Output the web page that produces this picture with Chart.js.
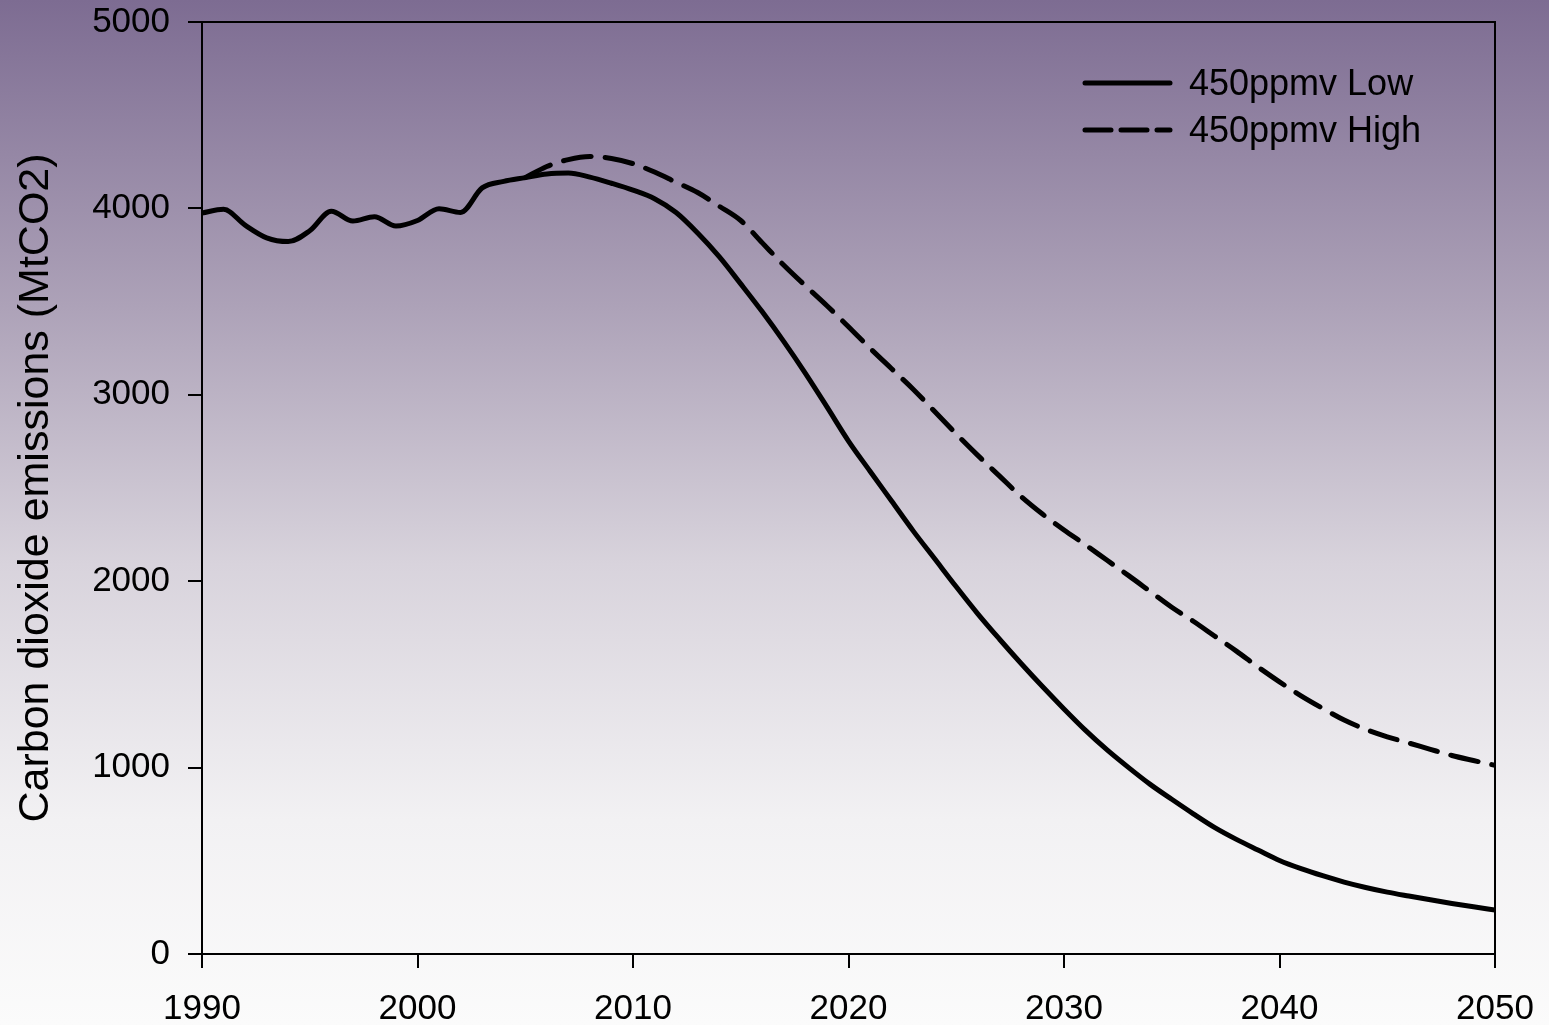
<!DOCTYPE html>
<html lang="en">
<head>
    <meta charset="UTF-8">
    <title>Carbon dioxide emissions</title>
    <script src="https://cdn.jsdelivr.net/npm/chart.js"></script>
    <style>
        html, body { margin: 0; padding: 0; }
        #wrap { width: 1549px; height: 1025px; }
    </style>
</head>
<body>
    <div id="wrap"><canvas id="co2Chart"></canvas></div>

    <script>
        // years 1990..2050
        const years = [];
        for (let y = 1990; y <= 2050; y++) years.push(y);

        const lowValues = [
            3975, 3995, 3910, 3842, 3822, 3880, 3985, 3932, 3955, 3905,
            3935, 3998, 3978, 4110, 4145, 4165, 4185, 4190, 4168, 4135,
            4098, 4052, 3978, 3868, 3741, 3595, 3445, 3285, 3115, 2935,
            2752, 2590, 2430, 2270, 2120, 1970, 1825, 1690, 1560, 1435,
            1315, 1200, 1095, 1000, 910, 830, 752, 678, 615, 558,
            502, 458, 420, 386, 357, 332, 311, 291, 271, 253,
            236
        ];

        // high scenario splits off in 2005
        const highStart = 2005;
        const highValues = [
            4165, 4225, 4262, 4278, 4268, 4240, 4195, 4140, 4085, 4012,
            3935, 3815, 3695, 3585, 3478, 3365, 3250, 3140, 3030, 2910,
            2790, 2675, 2565, 2455, 2360, 2275, 2195, 2112, 2030, 1945,
            1860, 1785, 1705, 1625, 1540, 1460, 1385, 1318, 1255, 1205,
            1165, 1132, 1098, 1065, 1038, 1012
        ];

        const xTicks = [1990, 2000, 2010, 2020, 2030, 2040, 2050];
        const yTicks = [0, 1000, 2000, 3000, 4000, 5000];

        const seriesLabels = ['450ppmv Low', '450ppmv High'];
        const FONT = "'Liberation Sans', Arial, sans-serif";
        const DASH = [28, 14];

        const lowPoints = years.map((y, i) => ({ x: y, y: lowValues[i] }));
        const highPoints = highValues.map((v, i) => ({ x: highStart + i, y: v }));

        const backdrop = {
            id: 'backdrop',
            beforeDraw(chart) {
                const { ctx, width, height } = chart;
                const g = ctx.createLinearGradient(0, 0, 0, height);
                g.addColorStop(0, '#7d6c92');
                g.addColorStop(0.3, '#ada2b8');
                g.addColorStop(0.55, '#d8d3dc');
                g.addColorStop(0.8, '#f2f1f3');
                g.addColorStop(1, '#fbfbfb');
                ctx.save();
                ctx.fillStyle = g;
                ctx.fillRect(0, 0, width, height);
                ctx.restore();
            }
        };

        // top and right edges of the plot box
        const frame = {
            id: 'frame',
            beforeDatasetsDraw(chart) {
                const a = chart.chartArea;
                const ctx = chart.ctx;
                ctx.save();
                ctx.strokeStyle = '#000';
                ctx.lineWidth = 2;
                ctx.beginPath();
                ctx.moveTo(a.left, a.top);
                ctx.lineTo(a.right, a.top);
                ctx.lineTo(a.right, a.bottom);
                ctx.stroke();
                ctx.restore();
            }
        };

        const lineLegend = {
            id: 'lineLegend',
            afterDraw(chart) {
                const ctx = chart.ctx;
                const x0 = 1085, x1 = 1170, tx = 1189;
                const rows = [83, 130];
                ctx.save();
                ctx.font = '36px ' + FONT;
                ctx.textBaseline = 'middle';
                ctx.fillStyle = '#000';
                chart.data.datasets.forEach((ds, i) => {
                    ctx.beginPath();
                    ctx.lineWidth = ds.borderWidth;
                    ctx.lineCap = 'round';
                    ctx.setLineDash(ds.borderDash ? [26, 10] : []);
                    ctx.strokeStyle = ds.borderColor;
                    ctx.moveTo(x0, rows[i]);
                    ctx.lineTo(x1, rows[i]);
                    ctx.stroke();
                    ctx.fillText(ds.label, tx, rows[i] + 2);
                });
                ctx.restore();
            }
        };

        new Chart(document.getElementById('co2Chart'), {
            type: 'line',
            data: {
                datasets: [{
                    label: seriesLabels[0],
                    data: lowPoints,
                    borderColor: '#000',
                    borderWidth: 5,
                    borderCapStyle: 'round',
                    pointRadius: 0,
                    cubicInterpolationMode: 'monotone',
                    fill: false
                }, {
                    label: seriesLabels[1],
                    data: highPoints,
                    borderColor: '#000',
                    borderWidth: 5,
                    borderDash: DASH,
                    borderCapStyle: 'round',
                    pointRadius: 0,
                    cubicInterpolationMode: 'monotone',
                    fill: false
                }]
            },
            options: {
                responsive: true,
                maintainAspectRatio: false,
                animation: false,
                layout: { padding: { top: 22, right: 54, left: 0, bottom: 0 } },
                plugins: {
                    legend: { display: false },
                    tooltip: { enabled: false }
                },
                scales: {
                    x: {
                        type: 'linear',
                        min: 1990,
                        max: 2050,
                        afterBuildTicks: axis => { axis.ticks = xTicks.map(v => ({ value: v })); },
                        afterFit: axis => {
                            axis.height = 71;
                            axis.paddingLeft = 0;
                            axis.paddingRight = 0;
                        },
                        grid: {
                            drawOnChartArea: false,
                            tickLength: 14,
                            color: '#000',
                            lineWidth: 2
                        },
                        border: { color: '#000', width: 2 },
                        ticks: {
                            color: '#000',
                            padding: 20,
                            maxRotation: 0,
                            font: { family: FONT, size: 35 },
                            callback: v => String(v)
                        }
                    },
                    y: {
                        min: 0,
                        max: 5000,
                        afterBuildTicks: axis => { axis.ticks = yTicks.map(v => ({ value: v })); },
                        afterFit: axis => {
                            axis.width = 202;
                            axis.paddingTop = 0;
                            axis.paddingBottom = 0;
                        },
                        grid: {
                            drawOnChartArea: false,
                            tickLength: 14,
                            color: '#000',
                            lineWidth: 2
                        },
                        border: { color: '#000', width: 2 },
                        ticks: {
                            color: '#000',
                            padding: 18,
                            font: { family: FONT, size: 35 },
                            callback: v => String(v)
                        },
                        title: {
                            display: true,
                            text: 'Carbon dioxide emissions (MtCO2)',
                            color: '#000',
                            padding: { top: 10, bottom: 0 },
                            font: { family: FONT, size: 43 }
                        }
                    }
                }
            },
            plugins: [backdrop, frame, lineLegend]
        });
    </script>
</body>
</html>
